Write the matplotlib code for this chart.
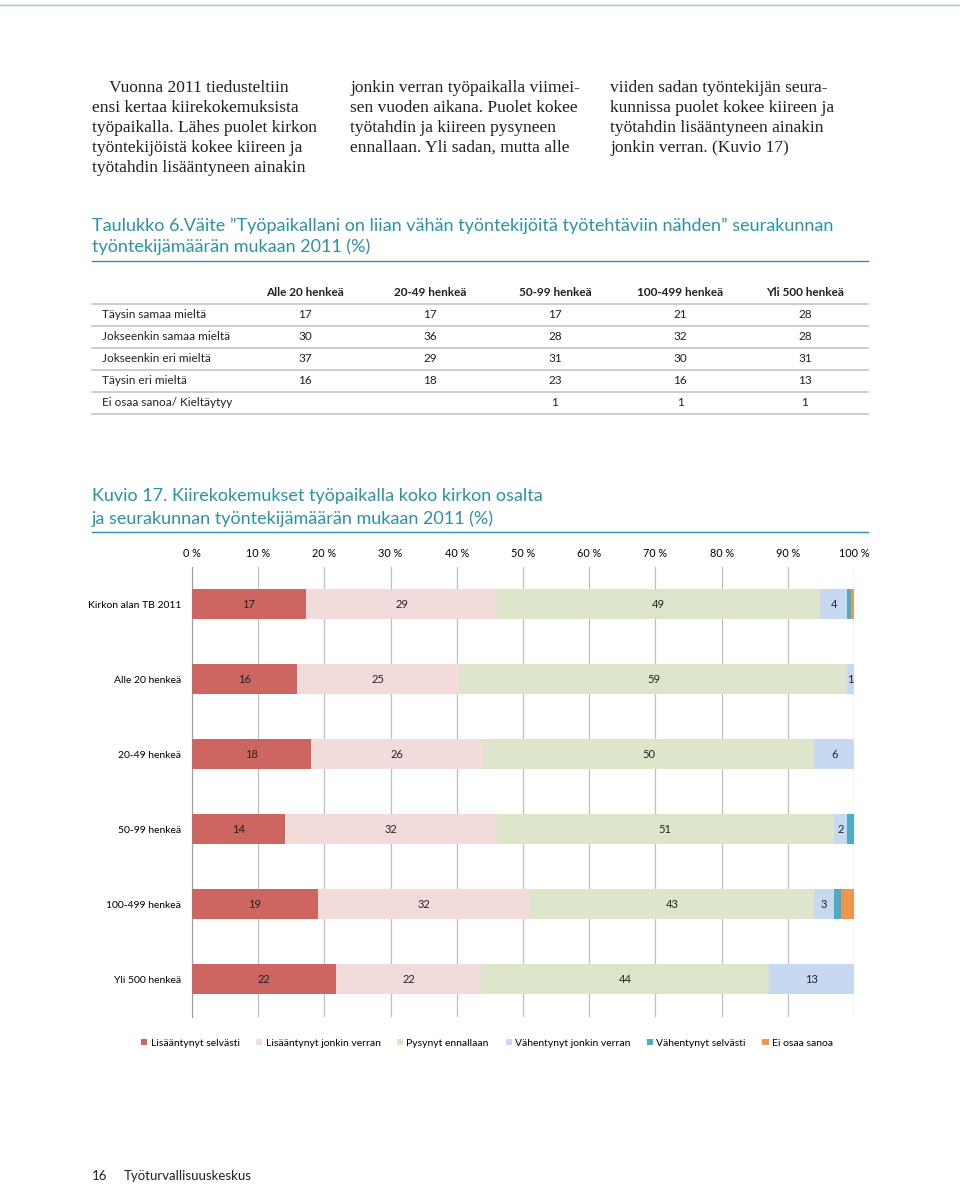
import numpy as np
import matplotlib.pyplot as plt
from matplotlib.patches import Patch

# Data

categories = ["Kirkon alan TB 2011", "Alle 20 henkeä", "20-49 henkeä",
              "50-99 henkeä", "100-499 henkeä", "Yli 500 henkeä"]
series_names = ["Lisääntynyt selvästi", "Lisääntynyt jonkin verran", "Pysynyt ennallaan",
                "Vähentynyt jonkin verran", "Vähentynyt selvästi", "Ei osaa sanoa"]
lisaantynyt_selvasti = [17.2, 15.8, 18.0, 14.0, 19.0, 21.8]
lisaantynyt_jonkin = [28.9, 24.6, 26.0, 32.0, 32.0, 21.8]
pysynyt = [48.8, 58.6, 50.0, 51.0, 43.0, 43.6]
vahentynyt_jonkin = [4.1, 1.0, 6.0, 2.0, 3.0, 12.8]
vahentynyt_selvasti = [0.5, 0.0, 0.0, 1.0, 1.0, 0.0]
ei_osaa = [0.5, 0.0, 0.0, 0.0, 2.0, 0.0]
colors = ["#CD6660", "#F2DCDB", "#DDE6CA", "#C6D9F0", "#4BACC6", "#EE9550"]

table_cols = ["Alle 20 henkeä", "20-49 henkeä", "50-99 henkeä", "100-499 henkeä", "Yli 500 henkeä"]
table_rows = ["Täysin samaa mieltä", "Jokseenkin samaa mieltä", "Jokseenkin eri mieltä",
              "Täysin eri mieltä", "Ei osaa sanoa/ Kieltäytyy"]
taysin_samaa = [17, 17, 17, 21, 28]
jokseenkin_samaa = [30, 36, 28, 32, 28]
jokseenkin_eri = [37, 29, 31, 30, 31]
taysin_eri = [16, 18, 23, 16, 13]
ei_osaa_kieltaytyy = [None, None, 1, 1, 1]

col1 = ["    Vuonna 2011 tiedusteltiin", "ensi kertaa kiirekokemuksista",
        "työpaikalla. Lähes puolet kirkon", "työntekijöistä kokee kiireen ja",
        "työtahdin lisääntyneen ainakin"]
col2 = ["jonkin verran työpaikalla viimei-", "sen vuoden aikana. Puolet kokee",
        "työtahdin ja kiireen pysyneen", "ennallaan. Yli sadan, mutta alle"]
col3 = ["viiden sadan työntekijän seura-", "kunnissa puolet kokee kiireen ja",
        "työtahdin lisääntyneen ainakin", "jonkin verran. (Kuvio 17)"]

teal = "#2A93A3"
dark = "#231F20"
sans = ["Lato", "DejaVu Sans"]

fig = plt.figure(figsize=(9.6, 11.86), dpi=100)

# page overlay in pixel coordinates
page = fig.add_axes([0, 0, 1, 1])
page.set_xlim(0, 960)
page.set_ylim(1186, 0)
page.axis("off")

page.plot([0, 960], [5, 5], color="#9CCBD1", lw=1)

for lines, x0 in [(col1, 92), (col2, 350), (col3, 610)]:
    for i, line in enumerate(lines):
        page.text(x0, 88 + 20 * i, line, fontsize=12.5, family="Liberation Serif",
                  color=dark, va="center")

# table
page.text(92, 226, "Taulukko 6.Väite ”Työpaikallani on liian vähän työntekijöitä työtehtäviin nähden” seurakunnan",
          fontsize=13, family=sans, color=teal, va="center")
page.text(92, 247, "työntekijämäärän mukaan 2011 (%)", fontsize=13, family=sans, color=teal, va="center")
page.plot([92, 868], [261, 261], color=teal, lw=1)

col_x = [305, 430, 555, 680, 805]
for cx, name in zip(col_x, table_cols):
    page.text(cx, 293, name, fontsize=8.5, family=sans, fontweight="bold", color=dark,
              ha="center", va="center")
table_vals = [taysin_samaa, jokseenkin_samaa, jokseenkin_eri, taysin_eri, ei_osaa_kieltaytyy]
for r, (name, vals) in enumerate(zip(table_rows, table_vals)):
    y = 315 + 22 * r
    page.text(102, y, name, fontsize=8.5, family=sans, color=dark, va="center")
    for cx, v in zip(col_x, vals):
        if v is not None:
            page.text(cx, y, str(v), fontsize=8.5, family=sans, color=dark,
                      ha="center", va="center")
for r in range(6):
    page.plot([92, 868], [304 + 22 * r, 304 + 22 * r], color="#C8C8C8", lw=1.3)

# chart title
page.text(92, 496, "Kuvio 17. Kiirekokemukset työpaikalla koko kirkon osalta",
          fontsize=13, family=sans, color=teal, va="center")
page.text(92, 519, "ja seurakunnan työntekijämäärän mukaan 2011 (%)",
          fontsize=13, family=sans, color=teal, va="center")
page.plot([92, 868], [532, 532], color=teal, lw=1)

page.text(92, 1176, "16", fontsize=9.5, family=sans, color=dark, va="center")
page.text(124, 1176, "Työturvallisuuskeskus", fontsize=9.5, family=sans, color=dark, va="center")

# stacked bar chart
ax = fig.add_axes([192 / 960, 1 - 1017 / 1186, 662 / 960, 450 / 1186])
series = [lisaantynyt_selvasti, lisaantynyt_jonkin, pysynyt,
          vahentynyt_jonkin, vahentynyt_selvasti, ei_osaa]
y = np.arange(len(categories))
left = np.zeros(len(categories))
for k, (vals, name, c) in enumerate(zip(series, series_names, colors)):
    vals = np.array(vals)
    ax.barh(y, vals, left=left, height=0.4, color=c, label=name, zorder=3)
    if k < 4:
        for yi, (l, v) in enumerate(zip(left, vals)):
            if v > 0:
                ax.text(l + v / 2, yi, f"{round(v)}", ha="center", va="center",
                        fontsize=8, family=sans, color="#222222", zorder=4)
    left += vals

ax.set_xlim(0, 100)
ax.set_ylim(len(categories) - 0.5, -0.5)
ax.set_xticks(np.arange(0, 101, 10))
ax.set_xticklabels([f"{t} %" for t in range(0, 101, 10)], fontsize=7.8, family=sans)
ax.xaxis.tick_top()
ax.tick_params(axis="x", length=0, pad=6)
ax.set_yticks(y)
ax.set_yticklabels(categories, fontsize=7.5, family=sans)
ax.tick_params(axis="y", length=0, pad=8)
ax.grid(axis="x", color="#BFBFBF", lw=0.9, zorder=0)
for s in ["top", "right", "bottom"]:
    ax.spines[s].set_visible(False)
ax.spines["left"].set_color("#9F9F9F")

handles = [Patch(facecolor=c, label=n) for c, n in zip(colors, series_names)]
fig.legend(handles=handles, loc="center", bbox_to_anchor=(487 / 960, 1 - 1043 / 1186),
           ncol=6, frameon=False, handlelength=0.6, handleheight=0.6,
           handletextpad=0.3, columnspacing=1.6, prop={"family": sans, "size": 7.5})

fig.savefig("out.png", dpi=100)
